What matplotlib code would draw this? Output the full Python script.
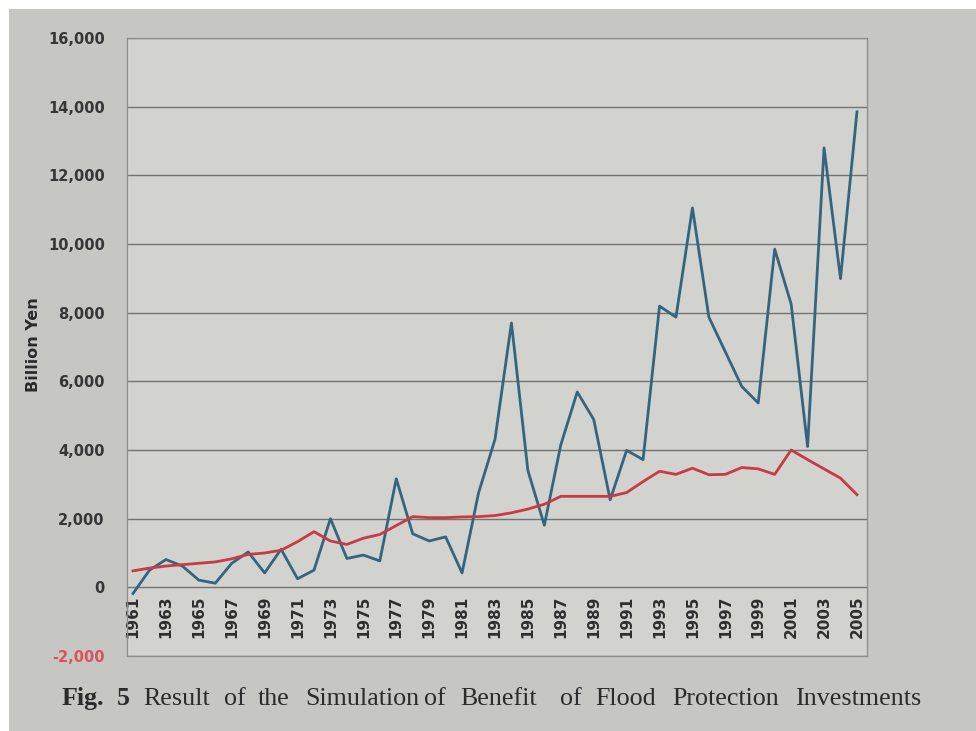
import matplotlib
matplotlib.use("Agg")
import matplotlib.pyplot as plt
from matplotlib.patches import Rectangle
from matplotlib.ticker import FuncFormatter

years = list(range(1961, 2006))
benefit = [-180, 500, 810, 620, 210, 120, 700, 1030, 420, 1110,
           250, 500, 2000, 840, 940, 770, 3160, 1560, 1350, 1470,
           420, 2750, 4310, 7700, 3400, 1810, 4150, 5690, 4890, 2550,
           3990, 3720, 8190, 7870, 11050, 7870, 6860, 5850, 5370, 9850,
           8250, 4100, 12800, 8990, 13850]
investment = [480, 560, 620, 660, 700, 740, 830, 960, 1000, 1080,
              1330, 1620, 1350, 1250, 1430, 1540, 1800, 2060, 2030, 2030,
              2050, 2060, 2090, 2170, 2280, 2420, 2650, 2650, 2650, 2650,
              2760, 3080, 3380, 3290, 3470, 3280, 3290, 3490, 3450, 3290,
              4000, 3720, 3450, 3180, 2700]
y_ticks = [-2000, 0, 2000, 4000, 6000, 8000, 10000, 12000, 14000, 16000]
x_label_years = years[::2]
y_label = "Billion Yen"
caption_words = ["Fig.", "5", "Result", "of", "the", "Simulation", "of",
                 "Benefit", "of", "Flood", "Protection", "Investments"]

W, H = 976, 731
fig = plt.figure(figsize=(W / 100, H / 100), dpi=100, facecolor="white")
# photo background
fig.patches.append(Rectangle((9 / W, 0), 1 - 9 / W, 1 - 9 / H,
                             transform=fig.transFigure, facecolor="#c6c6c3",
                             edgecolor="none", zorder=-10))

ax = fig.add_axes([127 / W, 1 - 656 / H, (867 - 127) / W, (656 - 38) / H])
ax.set_zorder(1)
ax.set_facecolor("#d2d2cf")
ax.set_ylim(-2000, 16000)
ax.set_xlim(1960.635, 2005.61)

for s in ax.spines.values():
    s.set_color("#8c8c8a")
    s.set_linewidth(0.9)

ax.set_yticks(y_ticks)
ax.yaxis.set_major_formatter(FuncFormatter(lambda v, p: f"{int(v):,}"))
ax.tick_params(axis="y", length=0, pad=16, labelsize=10.5, labelcolor="#363636")
for lbl in ax.get_yticklabels():
    lbl.set_fontweight("bold")
ax.get_yticklabels()[0].set_color("#d9545a")
ax.yaxis.grid(True, color="#737371", linewidth=1.0)
ax.set_axisbelow(True)

ax.set_xticks([])

sec = ax.secondary_xaxis(2000 / 18000)
sec.set_xticks(x_label_years)
sec.set_xticklabels([str(y) for y in x_label_years], rotation=90,
                    fontsize=11, fontweight="bold", color="#2e2e2e")
sec.tick_params(length=0, pad=6)
sec.spines["bottom"].set_visible(False)

ax.plot(years, benefit, color="#34657f", linewidth=2.0, zorder=3)
ax.plot(years, investment, color="#c83a44", linewidth=2.0, zorder=4)

fig.text(33 / W, 1 - 345 / H, y_label, rotation=90, ha="center", va="center",
         fontsize=11.5, fontweight="bold", color="#2a2a2a")

word_x = [62, 117, 143, 224, 258, 305, 424, 460, 560, 595, 672, 795]
for i, (w, x) in enumerate(zip(caption_words, word_x)):
    fig.text(x / W, 1 - 705 / H, w, ha="left", va="baseline",
             fontsize=18.7, family="Liberation Serif",
             fontweight="bold" if i < 2 else "normal", color="#2b2b2b")

fig.savefig("out.png", dpi=100, facecolor=fig.get_facecolor())
